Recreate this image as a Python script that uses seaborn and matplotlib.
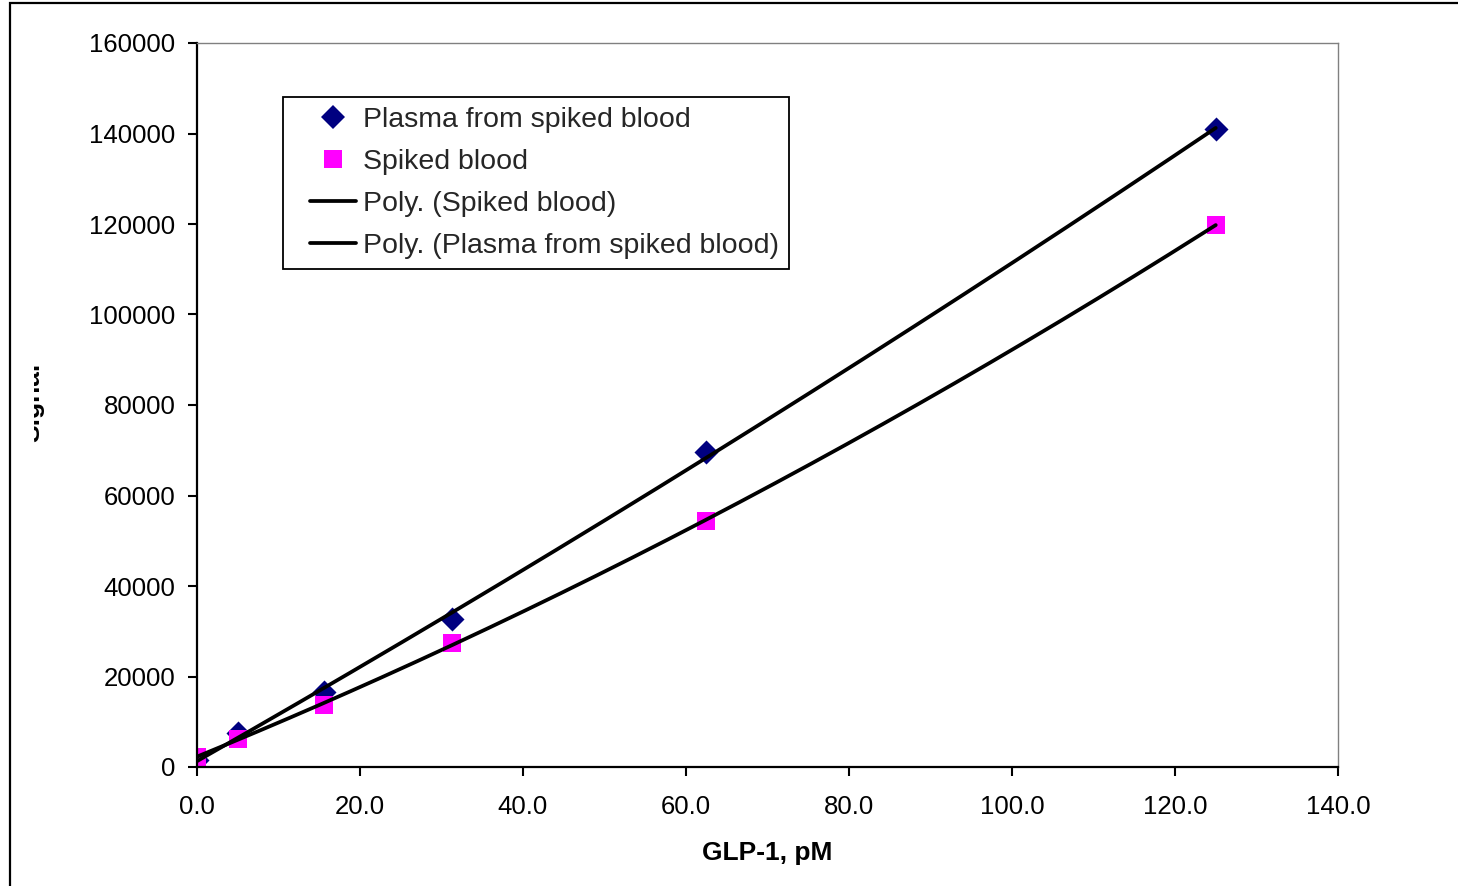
import numpy as np
import pandas as pd
import matplotlib
matplotlib.use("Agg")
import matplotlib.pyplot as plt
from matplotlib.lines import Line2D
from matplotlib.patches import Rectangle
from matplotlib.transforms import Bbox, TransformedBbox
from matplotlib.ticker import FuncFormatter
from matplotlib.legend_handler import HandlerLine2D
import seaborn as sns

# GLP-1 concentration (pM) and measured signal
conc = [0.0, 5.0, 15.6, 31.25, 62.5, 125.0]
plasma_signal = [1500, 7500, 16600, 32600, 69700, 141000]
spiked_signal = [2200, 6200, 13700, 27500, 54400, 119800]

series_names = ["Plasma from spiked blood", "Spiked blood"]
series_colors = ["#000080", "#FF00FF"]
series_markers = ["D", "s"]

x_ticks = [0, 20, 40, 60, 80, 100, 120, 140]
y_ticks = [0, 20000, 40000, 60000, 80000, 100000, 120000, 140000, 160000]

sns.set_theme(style="white")
plt.rcParams["font.family"] = ["Liberation Sans", "DejaVu Sans"]

W, H = 1458, 886
fig = plt.figure(figsize=(W / 100, H / 100), dpi=100)
ax = fig.add_axes([197 / W, 1 - 767 / H, (1338 - 197) / W, (767 - 43) / H])

df = pd.DataFrame({
    "conc": conc * 2,
    "signal": plasma_signal + spiked_signal,
    "series": [series_names[0]] * len(conc) + [series_names[1]] * len(conc),
})

TREND_LW = 2.7

# second-order polynomial trend lines
xfit = np.linspace(min(conc), max(conc), 200)
for sig in (spiked_signal, plasma_signal):
    coef = np.polyfit(conc, sig, 2)
    sns.lineplot(x=xfit, y=np.polyval(coef, xfit), ax=ax, color="black",
                 linewidth=TREND_LW, zorder=3, legend=False)

for name, color, marker in zip(series_names, series_colors, series_markers):
    sub = df[df["series"] == name]
    sns.scatterplot(data=sub, x="conc", y="signal", ax=ax, color=color,
                    marker=marker, s=175 if marker == "s" else 150,
                    edgecolor=color, linewidth=0, zorder=2 if marker == "D" else 2.5,
                    legend=False)

ax.set_xlim(0, 140)
ax.set_ylim(0, 160000)
ax.set_xticks(x_ticks)
ax.set_yticks(y_ticks)
ax.xaxis.set_major_formatter(FuncFormatter(lambda v, p: f"{v:.1f}"))
ax.yaxis.set_major_formatter(FuncFormatter(lambda v, p: f"{int(v)}"))
ax.tick_params(axis="both", which="major", labelsize=18.5, colors="black",
               length=6.5, width=1.5, direction="out")
ax.tick_params(axis="y", pad=9, left=True)
ax.tick_params(axis="x", pad=14, bottom=True)

for side in ("left", "bottom"):
    ax.spines[side].set_color("black")
    ax.spines[side].set_linewidth(1.6)
for side in ("top", "right"):
    ax.spines[side].set_color("#808080")
    ax.spines[side].set_linewidth(1.0)

ax.set_xlabel("GLP-1, pM", fontsize=19, fontweight="bold", color="black")
ax.xaxis.set_label_coords(0.5, -0.102)

ylab = ax.set_ylabel("Signal", fontsize=19, fontweight="bold", color="black")
ax.yaxis.set_label_coords(-0.1335, 0.503)
ylab.set_clip_box(TransformedBbox(Bbox([[34 / W, 0], [1, 1]]), fig.transFigure))
ylab.set_clip_on(True)

handles = [
    Line2D([], [], linestyle="none", marker="D", markersize=12,
           markerfacecolor=series_colors[0], markeredgewidth=0),
    Line2D([], [], linestyle="none", marker="s", markersize=12.5,
           markerfacecolor=series_colors[1], markeredgewidth=0),
    Line2D([], [], color="black", linewidth=TREND_LW),
    Line2D([], [], color="black", linewidth=TREND_LW),
]
labels = [series_names[0], series_names[1],
          "Poly. (Spiked blood)", "Poly. (Plasma from spiked blood)"]
leg = ax.legend(handles, labels, loc="upper left",
                bbox_to_anchor=(283 / W, 1 - 97 / H), bbox_transform=fig.transFigure,
                borderaxespad=0, fontsize=20.5, frameon=True, fancybox=False,
                shadow=False, handlelength=2.2, handletextpad=0.25,
                labelspacing=0.56, borderpad=0.355,
                handler_map={Line2D: HandlerLine2D(xpad=0.6)})
leg.get_frame().set_edgecolor("black")
leg.get_frame().set_linewidth(1.3)
leg.get_frame().set_facecolor("white")
leg.get_frame().set_alpha(1)

# outer chart border
fig.patches.append(Rectangle((10 / W, -0.5), 2.0, 1.5 - 3 / H, transform=fig.transFigure,
                             fill=False, edgecolor="black", linewidth=1.6))

fig.savefig("out.png", dpi=100, facecolor="white")
